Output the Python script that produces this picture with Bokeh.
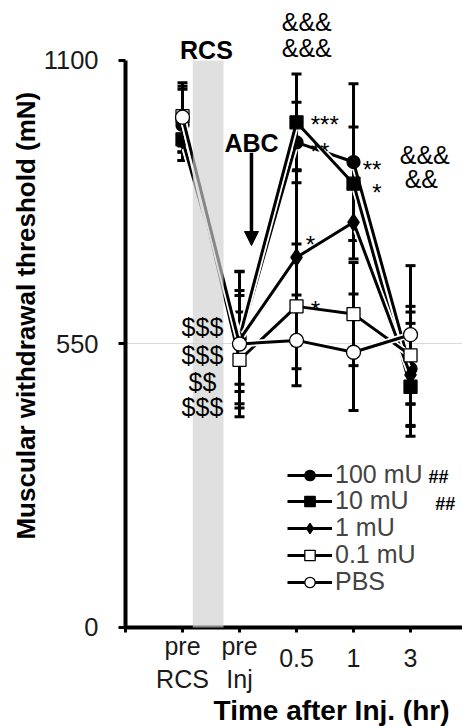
import math
from bokeh.plotting import figure
from bokeh.models import (ColumnDataSource, Whisker, TeeHead, BoxAnnotation, Label,
                          Arrow, NormalHead, Legend, LegendItem, FixedTicker, Range1d,
                          LinearAxis)
from bokeh.embed import file_html
from bokeh.resources import INLINE

# ---------------- data ----------------
tick_labels = ["pre\nRCS", "pre\nInj", "0.5", "1", "3"]
x_pos = [1, 2, 3, 4, 5]
series_names = ["100 mU", "10 mU", "1 mU", "0.1 mU", "PBS"]

mean_100mU = [975, 556, 941, 903, 502]
sem_100mU = [69, 98, 78, 152, 110]
mean_10mU = [947, 562, 980, 861, 467]
sem_10mU = [41, 128, 94, 110, 96]
mean_1mU = [945, 558, 718, 786, 490]
sem_1mU = [23, 86, 170, 71, 100]
mean_01mU = [992, 519, 623, 608, 528]
sem_01mU = [58, 93, 121, 100, 95]
mean_PBS = [990, 550, 557, 534, 568]
sem_PBS = [67, 141, 88, 113, 134]

means = [mean_100mU, mean_10mU, mean_1mU, mean_01mU, mean_PBS]
sems = [sem_100mU, sem_10mU, sem_1mU, sem_01mU, sem_PBS]

FONT = "Liberation Sans"
X_END = 5.912

p = figure(width=462, height=726, x_range=Range1d(-2.193, X_END), y_range=Range1d(-192.1, 1216.4),
           output_backend="svg", toolbar_location=None,
           min_border_left=0, min_border_right=0, min_border_top=0, min_border_bottom=0)
p.outline_line_color = None
p.background_fill_color = "white"
p.xgrid.visible = False
p.ygrid.ticker = FixedTicker(ticks=[550])
p.ygrid.grid_line_color = "#d9d9d9"
p.ygrid.grid_line_width = 1
try:
    p.ygrid.cross_bounds = (0, X_END)
except Exception:
    pass

# y axis (drawn at x = 0)
ya = p.yaxis[0]
ya.fixed_location = 0
ya.ticker = FixedTicker(ticks=[0, 550, 1100])
ya.bounds = (0, 1100)
ya.axis_line_width = 4
ya.major_tick_line_width = 3
ya.major_tick_out = 7
ya.major_tick_in = 0
ya.minor_tick_line_color = None
ya.major_label_text_font = FONT
ya.major_label_text_font_size = "25.5px"
ya.major_label_text_color = "#1a1a1a"
ya.major_label_standoff = 20

# x axis (drawn at y = 0)
xa = p.xaxis[0]
xa.fixed_location = 0
xa.bounds = (0, X_END)
xa.ticker = FixedTicker(ticks=[0] + x_pos)
ov_a = {0: ""}
ov_b = {0: ""}
for xp, lab in zip(x_pos, tick_labels):
    ov_a[xp] = lab if "\n" in lab else ""
    ov_b[xp] = "" if "\n" in lab else lab
xa.major_label_overrides = ov_a
xa.axis_line_width = 4
xa.major_tick_line_width = 3
xa.major_tick_out = 5
xa.major_tick_in = 0
xa.minor_tick_line_color = None
xa.major_label_text_font = FONT
xa.major_label_text_font_size = "25px"
xa.major_label_text_color = "#1a1a1a"
xa.major_label_text_line_height = 1.15
xa.major_label_standoff = 0

# second x axis carrying the single-line tick labels (vertically centred)
xb = LinearAxis(fixed_location=0, bounds=(0, X_END), ticker=FixedTicker(ticks=[0] + x_pos),
                major_label_overrides=ov_b, axis_line_color=None, major_tick_line_color=None,
                minor_tick_line_color=None, major_tick_out=5, major_tick_in=0,
                major_label_text_font=FONT, major_label_text_font_size="25px",
                major_label_text_color="#1a1a1a", major_label_standoff=17)
p.add_layout(xb, "below")

# error bars
ex, eu, el = [], [], []
for m, s in zip(means, sems):
    for xp, mv, sv in zip(x_pos, m, s):
        ex.append(xp); eu.append(mv + sv); el.append(mv - sv)
esrc = ColumnDataSource(dict(x=ex, upper=eu, lower=el))
wh = Whisker(source=esrc, base="x", upper="upper", lower="lower", level="underlay",
             line_width=3, line_color="black",
             upper_head=TeeHead(size=10, line_width=3, line_color="black"),
             lower_head=TeeHead(size=10, line_width=3, line_color="black"))
p.add_layout(wh)

styles = [
    dict(marker="circle", fill_color="black", size=13),
    dict(marker="square", fill_color="black", size=13),
    dict(marker="diamond", fill_color="black", size=17),
    dict(marker="square", fill_color="white", size=13),
    dict(marker="circle", fill_color="white", size=14),
]

items = []
for name, m, st in zip(series_names, means, styles):
    src = ColumnDataSource(dict(x=x_pos, y=m))
    p.line("x", "y", source=src, line_color="white", line_width=6.5)
    ln = p.line("x", "y", source=src, line_color="black", line_width=3)
    sc = p.scatter("x", "y", source=src, marker=st["marker"], size=st["size"],
                   fill_color=st["fill_color"], line_color="black", line_width=1.3)
    items.append(LegendItem(label=name, renderers=[ln, sc]))

# RCS band (semi-transparent, above the lines)
band = BoxAnnotation(left=1.18, right=1.72, bottom=0, top=1100,
                     fill_color="#cfcfcf", fill_alpha=0.65, line_color=None)
p.add_layout(band)

def lab(x, y, text, size="25px", bold=False, align="center", baseline="middle", angle=0.0):
    p.add_layout(Label(x=x, y=y, text=text, text_font=FONT, text_font_size=size,
                       text_font_style="bold" if bold else "normal", angle=angle,
                       text_align=align, text_baseline=baseline, text_color="black"))

lab(1.42, 1121, "RCS", bold=True)
lab(2.21, 939, "ABC", bold=True)
p.add_layout(Arrow(x_start=2.21, y_start=921, x_end=2.21, y_end=741, line_width=3.5,
                   line_color="black",
                   end=NormalHead(size=14, fill_color="black", line_color="black")))

lab(3.18, 1174, "&&&")
lab(3.18, 1125, "&&&")
lab(5.25, 916, "&&&")
lab(5.19, 871, "&&")

lab(3.25, 976, "***", size="24px", align="left", baseline="alphabetic")
lab(3.25, 923, "**", size="24px", align="left", baseline="alphabetic")
lab(3.16, 743, "*", size="24px", align="left", baseline="alphabetic")
lab(3.25, 617, "*", size="24px", align="left", baseline="alphabetic")
lab(4.16, 888, "**", size="24px", align="left", baseline="alphabetic")
lab(4.33, 844, "*", size="24px", align="left", baseline="alphabetic")

lab(1.35, 582, "$$$")
lab(1.35, 528, "$$$")
lab(1.35, 477, "$$")
lab(1.35, 427, "$$$")

lab(5.49, 291, "##", size="18px", bold=True)
lab(5.61, 240, "##", size="18px", bold=True)

# axis titles
lab(3.614, -161, "Time after Inj. (hr)", size="28px", bold=True)
lab(-1.737, 605, "Muscular withdrawal threshold (mN)", size="26px", bold=True, angle=math.pi / 2)

# legend: one single-row legend per series so that the row pitch matches
legend_rows_y = [237, 211, 184, 157, 130]
for it, ly in zip(items, legend_rows_y):
    lg = Legend(items=[it], location=(287, ly), glyph_width=45, glyph_height=26,
                label_height=26, label_standoff=3, spacing=0, padding=0, margin=0,
                label_text_font=FONT, label_text_font_size="25px",
                border_line_color=None, background_fill_alpha=0)
    p.add_layout(lg)

open("out.html", "w").write(file_html(p, INLINE))
